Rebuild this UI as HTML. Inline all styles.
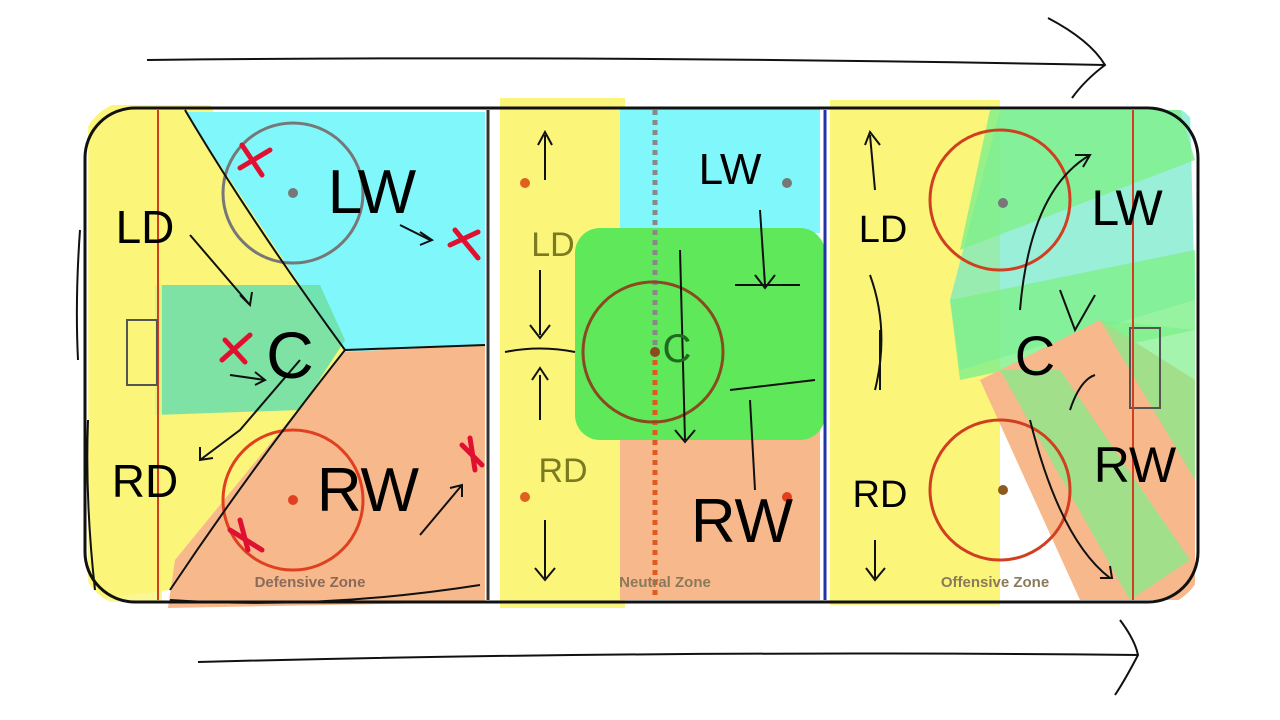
<!DOCTYPE html>
<html><head><meta charset="utf-8"><style>
html,body{margin:0;padding:0;background:#fff;}
svg{display:block;}
text{font-family:"Liberation Sans",sans-serif;}
</style></head><body>
<svg width="1280" height="720" viewBox="0 0 1280 720" xmlns="http://www.w3.org/2000/svg">
<defs><clipPath id="rk"><rect x="80" y="100" width="1125" height="508" rx="55"/></clipPath></defs>
<rect width="1280" height="720" fill="#fff"/>
<g clip-path="url(#rk)">
<!-- Defensive zone -->
<path d="M90,105 L210,105 L345,350 L170,590 L90,600 Z" fill="#fbf57a"/>
<path d="M185,112 L485,112 L485,345 L345,352 Z" fill="#80f8fb"/>
<path d="M345,352 L485,345 L485,602 L168,608 L175,560 Z" fill="#f7b98b"/>
<path d="M155,285 L320,285 L345,340 L300,410 L155,415 Z" fill="#6fe0a8" opacity="0.9"/>
<rect x="88" y="110" width="74" height="492" fill="#fbf57a" opacity="0.8"/>
<!-- Offensive zone -->
<rect x="830" y="100" width="170" height="505" fill="#fbf57a"/>
<path d="M1000,110 L1190,110 L1195,300 L960,370 L950,300 Z" fill="#6ee8c8" opacity="0.7"/>
<path d="M990,110 L1180,110 L1195,160 L960,250 Z" fill="#7ef08a" opacity="0.8"/>
<path d="M950,300 L1195,250 L1195,330 L960,380 Z" fill="#7ef08a" opacity="0.8"/>
<path d="M980,380 L1100,320 L1195,380 L1195,600 L1080,600 Z" fill="#f7b98b"/>
<path d="M1000,370 L1060,370 L1190,560 L1130,600 Z" fill="#7ef08a" opacity="0.7"/>
<path d="M1100,320 L1195,330 L1195,480 Z" fill="#7ef08a" opacity="0.7"/>
</g>
<!-- Neutral zone -->
<rect x="500" y="98" width="125" height="510" fill="#fbf57a"/>
<rect x="620" y="108" width="200" height="125" fill="#80f8fb"/>
<rect x="620" y="430" width="200" height="170" fill="#f7b98b"/>
<rect x="575" y="228" width="250" height="212" rx="25" fill="#5fe85a"/>
<line x1="655" y1="110" x2="655" y2="350" stroke="#888" stroke-width="5" stroke-dasharray="5,5"/>
<line x1="655" y1="350" x2="655" y2="600" stroke="#e05a20" stroke-width="5" stroke-dasharray="5,5"/>
<circle cx="653" cy="352" r="70" fill="none" stroke="#8a4a20" stroke-width="3"/>
<rect x="1130" y="328" width="30" height="80" fill="none" stroke="#555" stroke-width="2"/>
<!-- lines -->
<line x1="158" y1="110" x2="158" y2="600" stroke="#d04020" stroke-width="2"/>
<line x1="488" y1="110" x2="488" y2="600" stroke="#333" stroke-width="3"/>
<line x1="825" y1="110" x2="825" y2="600" stroke="#2233aa" stroke-width="3"/>
<line x1="1133" y1="110" x2="1133" y2="600" stroke="#d04020" stroke-width="2"/>
<rect x="127" y="320" width="30" height="65" fill="none" stroke="#555" stroke-width="2"/>
<!-- circles -->
<circle cx="293" cy="193" r="70" fill="none" stroke="#777" stroke-width="3"/>
<circle cx="293" cy="500" r="70" fill="none" stroke="#e04020" stroke-width="3"/>
<circle cx="1000" cy="200" r="70" fill="none" stroke="#d04020" stroke-width="3"/>
<circle cx="1000" cy="490" r="70" fill="none" stroke="#d04020" stroke-width="3"/>
<circle cx="293" cy="193" r="5" fill="#777"/><circle cx="293" cy="500" r="5" fill="#e04020"/>
<circle cx="525" cy="183" r="5" fill="#e06020"/><circle cx="525" cy="497" r="5" fill="#e06020"/>
<circle cx="787" cy="183" r="5" fill="#777"/><circle cx="787" cy="497" r="5" fill="#e04020"/>
<circle cx="1003" cy="203" r="5" fill="#777"/><circle cx="1003" cy="490" r="5" fill="#8a5a20"/>
<circle cx="655" cy="352" r="5" fill="#8a4a20"/>
<!-- rink border -->
<rect x="85" y="108" width="1113" height="494" rx="50" fill="none" stroke="#111" stroke-width="3"/>
<!-- zone labels -->
<text x="310" y="587" font-size="15" font-weight="bold" fill="#8a6a5a" text-anchor="middle">Defensive Zone</text>
<text x="665" y="587" font-size="15" font-weight="bold" fill="#8a7a5a" text-anchor="middle">Neutral Zone</text>
<text x="995" y="587" font-size="15" font-weight="bold" fill="#8a7a5a" text-anchor="middle">Offensive Zone</text>
<!-- arrows -->
<g fill="none" stroke="#111" stroke-width="2">
<path d="M147,60 Q600,55 1105,65"/>
<path d="M1048,18 Q1090,40 1105,65 Q1085,80 1072,98"/>
<path d="M198,662 Q650,650 1138,655"/>
<path d="M1120,620 Q1135,640 1138,655 Q1125,680 1115,695"/>
<path d="M80,230 Q75,300 78,360"/>
<path d="M88,420 Q85,500 95,590"/>
<path d="M185,110 Q250,220 345,350 Q250,470 170,590"/>
<path d="M345,350 L485,345"/>
<path d="M170,600 Q320,610 480,585"/>
<path d="M190,235 L250,305 M240,295 L250,305 L252,292"/>
<path d="M400,225 L430,240 M420,232 L432,240 L420,245"/>
<path d="M300,360 L240,430 L200,460 M200,447 L200,460 L213,458"/>
<path d="M230,375 L265,380 M255,372 L265,380 L255,385"/>
<path d="M420,535 L462,485 M450,488 L462,485 L462,497"/>
<path d="M545,135 L545,180 M538,145 L545,132 L552,145"/>
<path d="M540,270 L540,335 M530,325 L540,338 L550,325"/>
<path d="M505,352 Q540,345 575,352"/>
<path d="M540,375 L540,420 M532,380 L540,368 L548,380"/>
<path d="M545,520 L545,578 M535,568 L545,580 L555,568"/>
<path d="M760,210 L765,285 M755,275 L765,288 L775,275"/>
<path d="M735,285 L800,285"/>
<path d="M680,250 L685,440 M675,430 L685,442 L695,430"/>
<path d="M730,390 L815,380"/>
<path d="M750,400 L755,490"/>
<path d="M870,135 L875,190 M865,145 L870,132 L880,145"/>
<path d="M870,275 Q890,330 875,390"/>
<path d="M880,330 L880,390"/>
<path d="M875,540 L875,578 M866,568 L875,580 L885,568"/>
<path d="M1020,310 Q1030,190 1090,155 M1075,155 L1090,155 L1083,167"/>
<path d="M1060,290 L1075,330 L1095,295"/>
<path d="M1070,410 Q1080,380 1095,375"/>
<path d="M1030,420 Q1060,540 1110,578 M1100,578 L1112,578 L1110,566"/>
</g>
<g stroke="#e01030" stroke-width="5" stroke-linecap="round">
<path d="M242,145 L262,175 M240,168 L270,150"/>
<path d="M455,230 L478,258 M450,245 L478,232"/>
<path d="M225,340 L245,362 M222,360 L250,335"/>
<path d="M462,445 L482,465 M470,438 L475,470"/>
<path d="M230,530 L262,550 M240,520 L248,550"/>
</g>
<g fill="#000">
<text x="145" y="243" font-size="46" text-anchor="middle">LD</text>
<text x="372" y="213" font-size="62" text-anchor="middle">LW</text>
<text x="290" y="378" font-size="66" text-anchor="middle">C</text>
<text x="145" y="497" font-size="46" text-anchor="middle">RD</text>
<text x="368" y="511" font-size="62" text-anchor="middle">RW</text>
<text x="730" y="184" font-size="44" text-anchor="middle">LW</text>
<text x="742" y="542" font-size="62" text-anchor="middle">RW</text>
<text x="883" y="242" font-size="38" text-anchor="middle">LD</text>
<text x="880" y="507" font-size="38" text-anchor="middle">RD</text>
<text x="1127" y="225" font-size="50" text-anchor="middle">LW</text>
<text x="1035" y="375" font-size="56" text-anchor="middle">C</text>
<text x="1135" y="482" font-size="50" text-anchor="middle">RW</text>
</g>
<text x="553" y="256" font-size="34" fill="#7a7a20" text-anchor="middle">LD</text>
<text x="563" y="482" font-size="34" fill="#7a7a20" text-anchor="middle">RD</text>
<text x="677" y="362" font-size="40" fill="#206a20" text-anchor="middle">C</text>
</svg>
</body></html>
